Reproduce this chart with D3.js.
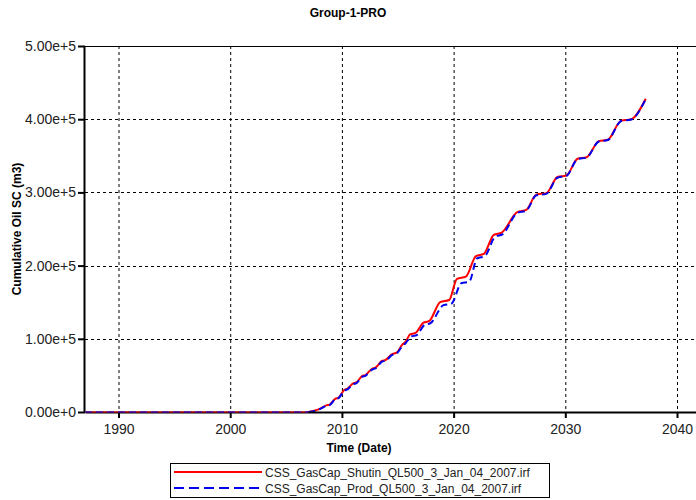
<!DOCTYPE html>
<html>
<head>
<meta charset="utf-8">
<script src="https://cdn.jsdelivr.net/npm/d3@7"></script>
<style>
  body { margin: 0; background: #fff; }
  svg { display: block; font-family: Arial, "Liberation Sans", sans-serif; }
  .grid line { stroke: #000; stroke-dasharray: 3,3; stroke-width: 1; }
  .tick text { fill: #222; font-size: 14px; }
  .axis-label { font-weight: bold; font-size: 12px; fill: #000; }
</style>
</head>
<body>
<div class="svg-wrapper"></div>
<script>
// tick values
const xTicks = [1990, 2000, 2010, 2020, 2030, 2040];
const yTicks = [0, 1e5, 2e5, 3e5, 4e5, 5e5];

// CSS_GasCap_Shutin (red) - decimal year / cumulative oil m3
const shutinYears = [2007.0, 2007.6, 2008.1, 2008.6, 2008.9, 2009.4, 2009.7, 2010.2, 2010.5, 2011.0, 2011.3,
  2011.8, 2012.1, 2012.7, 2013.0, 2013.6, 2013.9, 2014.5, 2014.9, 2015.4, 2015.7, 2016.1, 2016.6,
  2017.3, 2017.8, 2018.8, 2019.6, 2020.3, 2021.1, 2022.0, 2022.7, 2023.6, 2024.3, 2025.7, 2026.5,
  2027.4, 2028.3, 2029.3, 2030.1, 2031.1, 2031.9, 2033.0, 2033.8, 2035.0, 2035.9, 2037.2];
const shutinValues = [0, 2000, 5000, 9000, 10000, 18000, 19500, 30000, 32000, 39000, 40500,
  49000, 50500, 59000, 60500, 70000, 71000, 79000, 81000, 92000, 96000, 106000, 108000,
  122000, 124000, 150000, 153000, 182000, 185000, 213000, 216000, 242000, 245000, 273000, 276000,
  297000, 299000, 321000, 323000, 346000, 348000, 370000, 372000, 398000, 400000, 428000];

// CSS_GasCap_Prod (blue dashed)
const prodYears = [2007.0, 2007.6, 2008.1, 2008.6, 2008.9, 2009.4, 2009.7, 2010.2, 2010.5, 2011.0, 2011.3,
  2011.8, 2012.1, 2012.7, 2013.0, 2013.6, 2013.9, 2014.5, 2014.9, 2015.4, 2015.7, 2016.2, 2016.7,
  2017.4, 2017.9, 2019.1, 2019.8, 2020.7, 2021.4, 2022.1, 2022.8, 2023.7, 2024.4, 2025.7, 2026.5,
  2027.4, 2028.3, 2029.3, 2030.1, 2031.1, 2031.9, 2033.0, 2033.8, 2035.0, 2035.9, 2037.2];
const prodValues = [0, 1500, 4500, 8500, 9500, 17500, 19000, 29000, 31000, 38000, 39500,
  48000, 49500, 58000, 59500, 69000, 70000, 78000, 80000, 90000, 94000, 103000, 105000,
  119000, 121000, 146000, 148000, 176000, 178000, 210000, 213000, 239000, 243000, 272000, 275000,
  296000, 298000, 320000, 322500, 345500, 347500, 369500, 371500, 397500, 399500, 427500];

const legendNames = ["CSS_GasCap_Shutin_QL500_3_Jan_04_2007.irf", "CSS_GasCap_Prod_QL500_3_Jan_04_2007.irf"];

const width = 696, height = 500;
const margin = {top: 46, right: 0, bottom: 88, left: 85};
const innerWidth = width - margin.left - margin.right;
const innerHeight = height - margin.top - margin.bottom;

const svg = d3.select(".svg-wrapper").append("svg")
  .attr("width", width).attr("height", height);

const xScale = d3.scaleLinear().domain([1987, 2041.7]).range([0, innerWidth]);
const yScale = d3.scaleLinear().domain([0, 5e5]).range([innerHeight, 0]);

const g = svg.append("g").attr("transform", `translate(${margin.left},${margin.top})`);

// grid
const grid = g.append("g").attr("class", "grid");
grid.selectAll(".gx").data(xTicks).enter().append("line")
  .attr("x1", d => xScale(d) + 0.5).attr("x2", d => xScale(d) + 0.5)
  .attr("y1", 0).attr("y2", innerHeight);
grid.selectAll(".gy").data(yTicks.slice(1, -1)).enter().append("line")
  .attr("x1", 0).attr("x2", innerWidth)
  .attr("y1", d => Math.round(yScale(d)) + 0.5).attr("y2", d => Math.round(yScale(d)) + 0.5);

// top border
g.append("line").attr("x1", 0).attr("x2", innerWidth).attr("y1", 0.5).attr("y2", 0.5)
  .attr("stroke", "#000").attr("stroke-width", 1);

// lines
const lineGen = (years, values) => d3.line()
  .x((d, i) => xScale(years[i]))
  .y(d => yScale(d))
  .curve(d3.curveMonotoneX)(values);

const lineData = [
  {name: legendNames[0], years: shutinYears, values: shutinValues, color: "#ff0000", dash: null},
  {name: legendNames[1], years: prodYears, values: prodValues, color: "#0000ee", dash: "7,4"}
];

lineData.forEach(s => {
  g.append("path")
    .attr("d", lineGen(s.years, s.values))
    .attr("fill", "none")
    .attr("stroke", s.color)
    .attr("stroke-width", 2)
    .attr("stroke-dasharray", s.dash);
});

// axes
const yAxis = d3.axisLeft(yScale).tickValues(yTicks).tickFormat(d3.format(".2e"))
  .tickSizeInner(7).tickSizeOuter(0).tickPadding(2);
const yAxisG = g.append("g").call(yAxis);
yAxisG.select(".domain").attr("stroke-width", 2).attr("transform", "translate(-1,0)");
yAxisG.selectAll(".tick line").attr("stroke-width", 2);

const xAxis = d3.axisBottom(xScale).tickValues(xTicks).tickFormat(d3.format("d"))
  .tickSizeInner(6).tickSizeOuter(0).tickPadding(6);
const xAxisG = g.append("g").attr("transform", `translate(0,${innerHeight})`).call(xAxis);
xAxisG.select(".domain").attr("stroke-width", 2);
xAxisG.selectAll(".tick line").attr("stroke-width", 2);

// flat zero part before production, drawn over the axis line
g.append("line")
  .attr("x1", 0).attr("x2", xScale(2007)).attr("y1", yScale(0)).attr("y2", yScale(0))
  .attr("stroke", "#ff0000").attr("stroke-width", 1);
g.append("line")
  .attr("x1", 0).attr("x2", xScale(2007)).attr("y1", yScale(0)).attr("y2", yScale(0))
  .attr("stroke", "#0000ee").attr("stroke-width", 1).attr("stroke-dasharray", "7,4");

// labels
svg.append("text").attr("class", "axis-label")
  .attr("x", 348).attr("y", 17).attr("text-anchor", "middle").text("Group-1-PRO");

svg.append("text").attr("class", "axis-label")
  .attr("transform", `translate(21,${margin.top + innerHeight / 2}) rotate(-90)`)
  .attr("text-anchor", "middle").text("Cumulative Oil SC (m3)");

svg.append("text").attr("class", "axis-label")
  .attr("x", 359).attr("y", 452).attr("text-anchor", "middle").text("Time (Date)");

// legend
const legend = svg.append("g").attr("transform", "translate(170,463)");
legend.append("rect").attr("x", 0.5).attr("y", 0.5).attr("width", 379).attr("height", 34)
  .attr("fill", "#fff").attr("stroke", "#000");
lineData.forEach((s, i) => {
  const y = 9 + i * 16;
  legend.append("line").attr("x1", 4).attr("x2", 92).attr("y1", y).attr("y2", y)
    .attr("stroke", s.color).attr("stroke-width", 2).attr("stroke-dasharray", s.dash ? "10,5" : null);
  legend.append("text").attr("x", 95).attr("y", y + 4.5)
    .style("font-size", "12px").attr("fill", "#222").text(s.name);
});
</script>
</body>
</html>
